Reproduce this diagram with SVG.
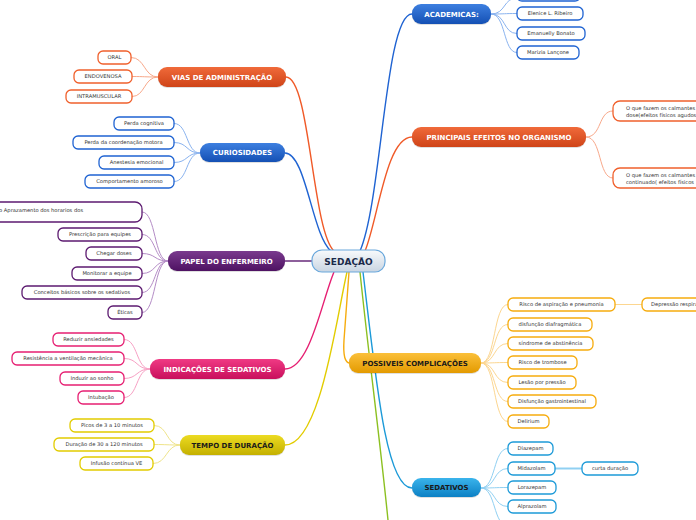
<svg xmlns="http://www.w3.org/2000/svg" width="696" height="520" viewBox="0 0 696 520">
<defs>
<linearGradient id="gBlue" x1="0" y1="0" x2="0" y2="1"><stop offset="0" stop-color="#3d7fe0"/><stop offset="1" stop-color="#1450b4"/></linearGradient>
<linearGradient id="gOrange" x1="0" y1="0" x2="0" y2="1"><stop offset="0" stop-color="#f06a3a"/><stop offset="1" stop-color="#cf4418"/></linearGradient>
<linearGradient id="gPurple" x1="0" y1="0" x2="0" y2="1"><stop offset="0" stop-color="#7a3a8e"/><stop offset="1" stop-color="#4e1262"/></linearGradient>
<linearGradient id="gPink" x1="0" y1="0" x2="0" y2="1"><stop offset="0" stop-color="#f03a84"/><stop offset="1" stop-color="#c80f5c"/></linearGradient>
<linearGradient id="gYellow" x1="0" y1="0" x2="0" y2="1"><stop offset="0" stop-color="#ecdb22"/><stop offset="1" stop-color="#c4b000"/></linearGradient>
<linearGradient id="gAmber" x1="0" y1="0" x2="0" y2="1"><stop offset="0" stop-color="#fbc03a"/><stop offset="1" stop-color="#e39a00"/></linearGradient>
<linearGradient id="gSky" x1="0" y1="0" x2="0" y2="1"><stop offset="0" stop-color="#3ab4ec"/><stop offset="1" stop-color="#0c80c4"/></linearGradient>
<linearGradient id="gCenter" x1="0" y1="0" x2="0" y2="1"><stop offset="0" stop-color="#f8fafc"/><stop offset="1" stop-color="#c9d5e2"/></linearGradient>
</defs>
<style>
.main{stroke-width:1}
.mt{font-family:"DejaVu Sans",Verdana,sans-serif;font-weight:bold;font-size:7px;text-anchor:middle;fill:#fff}
.mtd{fill:#1a1a1a}
.c{fill:#fff;stroke-width:1.3}
.ct{font-family:"DejaVu Sans",Verdana,sans-serif;font-size:5.2px;text-anchor:middle;fill:#333}
.cs{text-anchor:start}
.ln{fill:none;stroke-width:1}
.mc{fill:none;stroke-width:1.4}
.sh{fill:#000;opacity:0.12}
.blue{stroke:#1f63d2}.orange{stroke:#f0602c}.purple{stroke:#5c1a70}.pink{stroke:#e61f72}.yellow{stroke:#e2cc00}.amber{stroke:#f6ac0e}.sky{stroke:#1c9ad8}
.lblue{stroke:#8ab3ef}.lorange{stroke:#f8a88a}.lpurple{stroke:#b48cc6}.lpink{stroke:#f7a0c4}.lyellow{stroke:#efe48a}.lamber{stroke:#fcd690}.lsky{stroke:#90d0f2}
</style>

<g id="connectors">
<!-- main connectors -->
<path class="mc" stroke="#f05a28" d="M286 77 C310 77 312 230 334 251"/>
<path class="mc" stroke="#1f63d2" d="M285 153 C306 153 312 235 331 251"/>
<path class="mc" stroke="#1f63d2" d="M412 14 C385 14 382 200 360 251"/>
<path class="mc" stroke="#f05a28" d="M412 137 C386 137 378 220 365 251"/>
<path class="mc" stroke="#5c1a70" d="M285 261 L312 261"/>
<path class="mc" stroke="#e61f72" d="M285 369 C310 369 322 300 334 272"/>
<path class="mc" stroke="#e2cc00" d="M285 445 C320 445 336 320 347 272"/>
<path class="mc" stroke="#f6ac0e" d="M349 272 L344 340 C343 356 345 363 350 363"/>
<path class="mc" stroke="#8cc021" d="M360 272 C368 350 380 440 388 520"/>
<path class="mc" stroke="#1c9ad8" d="M363 272 C376 380 386 488 412 488"/>
<!-- academicas children -->
<path class="ln lblue" d="M491 14 C506 14 503 -2 517 -2"/>
<path class="ln lblue" d="M491 14 C506 14 503 13.5 517 13.5"/>
<path class="ln lblue" d="M491 14 C506 14 503 33.5 517 33.5"/>
<path class="ln lblue" d="M491 14 C506 14 503 52.5 517 52.5"/>
<!-- principais children -->
<path class="ln lorange" d="M586 137 C602 137 598 111 613 111"/>
<path class="ln lorange" d="M586 137 C602 137 598 178 613 178"/>
<!-- vias children -->
<path class="ln lorange" d="M158 77 C144 77 145 57.5 131 57.5"/>
<path class="ln lorange" d="M158 77 C144 77 145 76.5 132 76.5"/>
<path class="ln lorange" d="M158 77 C144 77 145 96.5 132 96.5"/>
<!-- curiosidades children -->
<path class="ln lblue" d="M200 153 C186 153 188 123.5 174 123.5"/>
<path class="ln lblue" d="M200 153 C186 153 188 142.5 174 142.5"/>
<path class="ln lblue" d="M200 153 C186 153 188 162.5 174 162.5"/>
<path class="ln lblue" d="M200 153 C186 153 188 181.5 174 181.5"/>
<!-- papel children -->
<path class="ln lpurple" d="M168 261 C154 261 156 212 142 212"/>
<path class="ln lpurple" d="M168 261 C154 261 156 234.5 142 234.5"/>
<path class="ln lpurple" d="M168 261 C154 261 156 253.5 142 253.5"/>
<path class="ln lpurple" d="M168 261 C154 261 156 273.5 142 273.5"/>
<path class="ln lpurple" d="M168 261 C154 261 156 292.5 142 292.5"/>
<path class="ln lpurple" d="M168 261 C154 261 156 312.5 142 312.5"/>
<!-- indicacoes children -->
<path class="ln lpink" d="M150 369 C136 369 138 339.5 124 339.5"/>
<path class="ln lpink" d="M150 369 C136 369 138 358.5 124 358.5"/>
<path class="ln lpink" d="M150 369 C136 369 138 378.5 124 378.5"/>
<path class="ln lpink" d="M150 369 C136 369 138 397.5 124 397.5"/>
<!-- tempo children -->
<path class="ln lyellow" d="M180 445 C166 445 168 425.5 154 425.5"/>
<path class="ln lyellow" d="M180 445 C166 445 168 444.5 154 444.5"/>
<path class="ln lyellow" d="M180 445 C166 445 167 463.5 153 463.5"/>
<!-- possiveis children -->
<path class="ln lamber" d="M481 363 C496 363 493 304.5 508 304.5"/>
<path class="ln lamber" d="M481 363 C496 363 493 324.5 508 324.5"/>
<path class="ln lamber" d="M481 363 C496 363 493 343.5 508 343.5"/>
<path class="ln lamber" d="M481 363 C496 363 493 362.5 508 362.5"/>
<path class="ln lamber" d="M481 363 C496 363 493 382.5 508 382.5"/>
<path class="ln lamber" d="M481 363 C496 363 493 401.5 508 401.5"/>
<path class="ln lamber" d="M481 363 C496 363 493 421.5 508 421.5"/>
<path class="ln lamber" d="M615 304.5 L642 304.5"/>
<!-- sedativos children -->
<path class="ln lsky" d="M481 488 C496 488 493 448.5 508 448.5"/>
<path class="ln lsky" d="M481 488 C496 488 493 468.5 508 468.5"/>
<path class="ln lsky" d="M481 488 C496 488 493 487.5 508 487.5"/>
<path class="ln lsky" d="M481 488 C496 488 493 506.5 508 506.5"/>
<path class="ln lsky" d="M481 488 C496 488 493 526 508 526"/>
<path class="lsky" fill="none" stroke-width="2" d="M555 468.5 L582 468.5"/>
</g>

<g id="center">
<rect x="312" y="250" width="73" height="22" rx="10" fill="url(#gCenter)" stroke="#6aa8dc" stroke-width="1.2"/>
<text x="348.5" y="264.5" font-family="DejaVu Sans,Verdana,sans-serif" font-weight="bold" font-size="9" text-anchor="middle" fill="#1a2a4a">SEDAÇÃO</text>
</g>

<g id="academicas">
<rect class="sh" x="412" y="5" width="79" height="20" rx="9"/>
<rect x="412" y="4" width="79" height="20" rx="9" fill="url(#gBlue)"/>
<text class="mt" x="451.5" y="16.5">ACADEMICAS:</text>
</g>
<g id="acad-hidden"><rect class="c blue" x="517" y="-8" width="63" height="9" rx="5"/></g>
<g id="acad-1"><rect class="c blue" x="517" y="7" width="66" height="13" rx="5"/><text class="ct" x="550" y="15.3">Elenice L. Ribeiro</text></g>
<g id="acad-2"><rect class="c blue" x="517" y="27" width="68" height="13" rx="5"/><text class="ct" x="551" y="35.3">Emanuelly Bonato</text></g>
<g id="acad-3"><rect class="c blue" x="517" y="46" width="62" height="13" rx="5"/><text class="ct" x="548" y="54.3">Marizia Lançone</text></g>

<g id="principais">
<rect class="sh" x="412" y="128" width="174" height="20" rx="9"/>
<rect x="412" y="127" width="174" height="20" rx="9" fill="url(#gOrange)"/>
<text class="mt" x="499" y="139.5">PRINCIPAIS EFEITOS NO ORGANISMO</text>
</g>
<g id="efeito-1"><rect class="c orange" x="613" y="101" width="100" height="20" rx="7"/><text class="ct cs" x="626" y="109.5">O que fazem os calmantes</text><text class="ct cs" x="626" y="117">dose(efeitos físicos agudos</text></g>
<g id="efeito-2"><rect class="c orange" x="613" y="168" width="100" height="20" rx="7"/><text class="ct cs" x="626" y="176.5">O que fazem os calmantes</text><text class="ct cs" x="626" y="184">continuado( efeitos físicos</text></g>

<g id="vias">
<rect class="sh" x="158" y="68" width="128" height="20" rx="9"/>
<rect x="158" y="67" width="128" height="20" rx="9" fill="url(#gOrange)"/>
<text class="mt" x="222" y="79.5">VIAS DE ADMINISTRAÇÃO</text>
</g>
<g id="vias-1"><rect class="c orange" x="98" y="51" width="33" height="13" rx="5"/><text class="ct" x="114.5" y="59.3">ORAL</text></g>
<g id="vias-2"><rect class="c orange" x="74" y="70" width="58" height="13" rx="5"/><text class="ct" x="103" y="78.3">ENDOVENOSA</text></g>
<g id="vias-3"><rect class="c orange" x="66" y="90" width="66" height="13" rx="5"/><text class="ct" x="99" y="98.3">INTRAMUSCULAR</text></g>

<g id="curiosidades">
<rect class="sh" x="200" y="144" width="85" height="19" rx="9"/>
<rect x="200" y="143" width="85" height="19" rx="9" fill="url(#gBlue)"/>
<text class="mt" x="242.5" y="155">CURIOSIDADES</text>
</g>
<g id="cur-1"><rect class="c blue" x="114" y="117" width="60" height="13" rx="5"/><text class="ct" x="144" y="125.3">Perda cognitiva</text></g>
<g id="cur-2"><rect class="c blue" x="73" y="136" width="101" height="13" rx="5"/><text class="ct" x="123.5" y="144.3">Perda da coordenação motora</text></g>
<g id="cur-3"><rect class="c blue" x="99" y="156" width="75" height="13" rx="5"/><text class="ct" x="136.5" y="164.3">Anestesia emocional</text></g>
<g id="cur-4"><rect class="c blue" x="85" y="175" width="89" height="13" rx="5"/><text class="ct" x="129.5" y="183.3">Comportamento amoroso</text></g>

<g id="papel">
<rect class="sh" x="168" y="252" width="117" height="20" rx="9"/>
<rect x="168" y="251" width="117" height="20" rx="9" fill="url(#gPurple)"/>
<text class="mt" x="226.5" y="263.5">PAPEL DO ENFERMEIRO</text>
</g>
<g id="papel-1"><rect class="c purple" x="-12" y="202" width="154" height="20" rx="7"/><text class="ct cs" x="-1" y="212">o Aprazamento dos horarios dos</text></g>
<g id="papel-2"><rect class="c purple" x="58" y="228" width="84" height="13" rx="5"/><text class="ct" x="100" y="236.3">Prescrição para equipes</text></g>
<g id="papel-3"><rect class="c purple" x="86" y="247" width="56" height="13" rx="5"/><text class="ct" x="114" y="255.3">Chegar doses</text></g>
<g id="papel-4"><rect class="c purple" x="72" y="267" width="70" height="13" rx="5"/><text class="ct" x="107" y="275.3">Monitorar a equipe</text></g>
<g id="papel-5"><rect class="c purple" x="22" y="286" width="120" height="13" rx="5"/><text class="ct" x="82" y="294.3">Conceitos básicos sobre os sedativos</text></g>
<g id="papel-6"><rect class="c purple" x="108" y="306" width="34" height="13" rx="5"/><text class="ct" x="125" y="314.3">Éticas</text></g>

<g id="indicacoes">
<rect class="sh" x="150" y="360" width="135" height="20" rx="9"/>
<rect x="150" y="359" width="135" height="20" rx="9" fill="url(#gPink)"/>
<text class="mt" x="217.5" y="371.5">INDICAÇÕES DE SEDATIVOS</text>
</g>
<g id="ind-1"><rect class="c pink" x="53" y="333" width="71" height="13" rx="5"/><text class="ct" x="88.5" y="341.3">Reduzir ansiedades</text></g>
<g id="ind-2"><rect class="c pink" x="12" y="352" width="112" height="13" rx="5"/><text class="ct" x="68" y="360.3">Resistência a ventilação mecânica</text></g>
<g id="ind-3"><rect class="c pink" x="60" y="372" width="64" height="13" rx="5"/><text class="ct" x="92" y="380.3">Induzir ao sonho</text></g>
<g id="ind-4"><rect class="c pink" x="78" y="391" width="46" height="13" rx="5"/><text class="ct" x="101" y="399.3">Intubação</text></g>

<g id="tempo">
<rect class="sh" x="180" y="436" width="105" height="20" rx="9"/>
<rect x="180" y="435" width="105" height="20" rx="9" fill="url(#gYellow)"/>
<text class="mt mtd" x="232.5" y="447.5">TEMPO DE DURAÇÃO</text>
</g>
<g id="tempo-1"><rect class="c yellow" x="70" y="419" width="84" height="13" rx="5"/><text class="ct" x="112" y="427.3">Picos de 3 a 10 minutos</text></g>
<g id="tempo-2"><rect class="c yellow" x="54" y="438" width="100" height="13" rx="5"/><text class="ct" x="104" y="446.3">Duração de 30 a 120 minutos</text></g>
<g id="tempo-3"><rect class="c yellow" x="80" y="457" width="73" height="13" rx="5"/><text class="ct" x="116.5" y="465.3">Infusão contínua VE</text></g>

<g id="possiveis">
<rect class="sh" x="349" y="354" width="132" height="20" rx="9"/>
<rect x="349" y="353" width="132" height="20" rx="9" fill="url(#gAmber)"/>
<text class="mt mtd" x="415" y="365.5">POSSIVEIS COMPLICAÇÕES</text>
</g>
<g id="comp-1"><rect class="c amber" x="508" y="298" width="107" height="13" rx="5"/><text class="ct" x="561.5" y="306.3">Risco de aspiração e pneumonia</text></g>
<g id="comp-1a"><rect class="c amber" x="642" y="298" width="80" height="13" rx="5"/><text class="ct cs" x="651" y="306.3">Depressão respiratória</text></g>
<g id="comp-2"><rect class="c amber" x="508" y="318" width="84" height="13" rx="5"/><text class="ct" x="550" y="326.3">disfunção diafragmática</text></g>
<g id="comp-3"><rect class="c amber" x="508" y="337" width="85" height="13" rx="5"/><text class="ct" x="550.5" y="345.3">síndrome de abstinência</text></g>
<g id="comp-4"><rect class="c amber" x="508" y="356" width="69" height="13" rx="5"/><text class="ct" x="542.5" y="364.3">Risco de trombose</text></g>
<g id="comp-5"><rect class="c amber" x="508" y="376" width="68" height="13" rx="5"/><text class="ct" x="542" y="384.3">Lesão por pressão</text></g>
<g id="comp-6"><rect class="c amber" x="508" y="395" width="88" height="13" rx="5"/><text class="ct" x="552" y="403.3">Disfunção gastrointestinal</text></g>
<g id="comp-7"><rect class="c amber" x="508" y="415" width="41" height="13" rx="5"/><text class="ct" x="528.5" y="423.3">Delirium</text></g>

<g id="sedativos">
<rect class="sh" x="412" y="479" width="69" height="19" rx="9"/>
<rect x="412" y="478" width="69" height="19" rx="9" fill="url(#gSky)"/>
<text class="mt mtd" x="446.5" y="490">SEDATIVOS</text>
</g>
<g id="sed-1"><rect class="c sky" x="508" y="442" width="45" height="13" rx="5"/><text class="ct" x="530.5" y="450.3">Diazepam</text></g>
<g id="sed-2"><rect class="c sky" x="508" y="462" width="47" height="13" rx="5"/><text class="ct" x="531.5" y="470.3">Midazolam</text></g>
<g id="sed-2a"><rect class="c sky" x="582" y="462" width="56" height="13" rx="5"/><text class="ct" x="610" y="470.3">curta duração</text></g>
<g id="sed-3"><rect class="c sky" x="508" y="481" width="48" height="13" rx="5"/><text class="ct" x="532" y="489.3">Lorazepam</text></g>
<g id="sed-4"><rect class="c sky" x="508" y="500" width="48" height="13" rx="5"/><text class="ct" x="532" y="508.3">Alprazolam</text></g>
</svg>
